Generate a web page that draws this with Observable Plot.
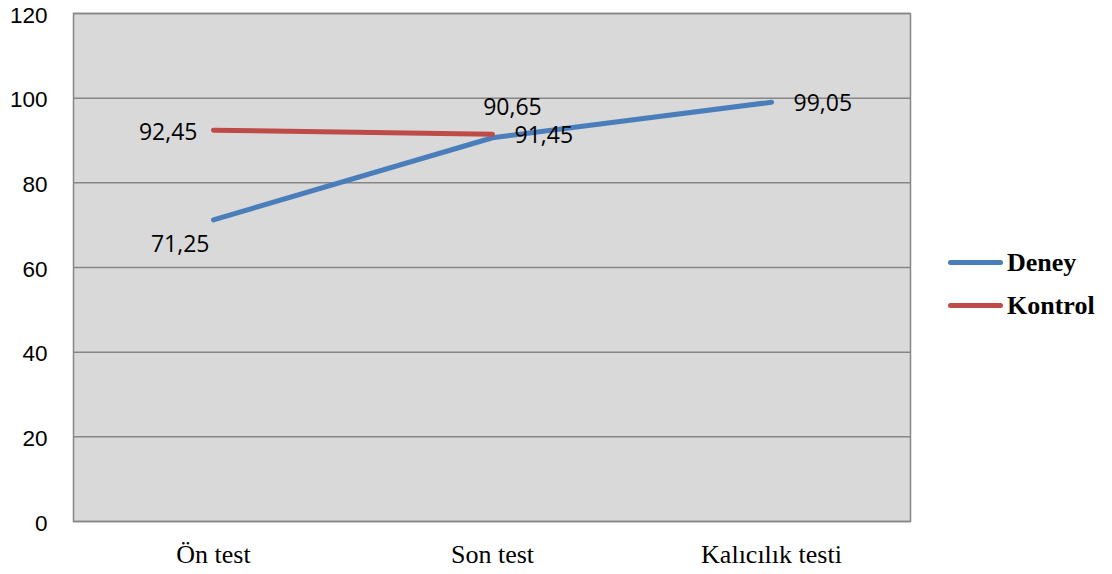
<!DOCTYPE html>
<html><head><meta charset="utf-8">
<script src="https://cdn.jsdelivr.net/npm/d3@7"></script>
<script src="https://cdn.jsdelivr.net/npm/@observablehq/plot@0.6"></script>
<style>
body{margin:0;background:#fff;}
#wrap{position:relative;width:1112px;height:574px;}
#legend{position:absolute;left:948px;top:241px;font-family:"Liberation Serif",serif;font-weight:bold;font-size:26px;color:#000;}
.item{display:flex;align-items:center;height:43px;}
.sw{width:55px;height:5px;border-radius:3px;margin-right:4px;}
svg g[aria-label="y-axis tick label"]{font-family:"Liberation Sans",sans-serif !important;font-size:22.5px !important;}
svg g[aria-label="x-axis tick label"]{font-family:"Liberation Serif",serif !important;font-size:26px !important;}
svg g[aria-label="text"]{font-family:"Open Sans",sans-serif !important;font-size:23px !important;}
</style></head>
<body><div id="wrap"><div id="legend"></div></div>
<script>
const categories = ["Ön test", "Son test", "Kalıcılık testi"];
const deney = [71.25, 90.65, 99.05];
const kontrol = [92.45, 91.45];
const yTicks = [0, 20, 40, 60, 80, 100, 120];
const seriesNames = ["Deney", "Kontrol"];
const colors = ["#4a7ebb", "#be4b48"];

const rows = [
  ...deney.map((v, i) => ({series: "Deney", cat: categories[i], value: v})),
  ...kontrol.map((v, i) => ({series: "Kontrol", cat: categories[i], value: v}))
];
const fmt = v => v.toFixed(2).replace(".", ",");
const labelPos = {
  "Deney|Ön test": {dx: -4, dy: 25, anchor: "end"},
  "Deney|Son test": {dx: 20, dy: -30, anchor: "middle"},
  "Deney|Kalıcılık testi": {dx: 22, dy: 1, anchor: "start"},
  "Kontrol|Ön test": {dx: -16, dy: 2, anchor: "end"},
  "Kontrol|Son test": {dx: 22, dy: 1, anchor: "start"}
};
const labelMarks = rows.map(r => {
  const p = labelPos[r.series + "|" + r.cat];
  return Plot.text([r], {x: "cat", y: "value", text: d => fmt(d.value), dx: p.dx, dy: p.dy, textAnchor: p.anchor,
    fontSize: 23, fontFamily: "'Open Sans', sans-serif", fill: "#000"});
});

const chart = Plot.plot({
  width: 1112, height: 574,
  marginLeft: 73, marginRight: 202, marginTop: 13, marginBottom: 53,
  style: {background: "transparent", overflow: "visible"},
  x: {type: "point", domain: categories, padding: 0.5, label: null},
  y: {domain: [0, 120], ticks: yTicks, label: null},
  color: {domain: seriesNames, range: colors},
  marks: [
    Plot.frame({fill: "#d9d9d9", stroke: "#868686", strokeWidth: 1.5}),
    Plot.ruleY(yTicks, {stroke: "#868686", strokeWidth: 1.5}),
    Plot.axisY({ticks: yTicks, tickSize: 0, tickPadding: 26, dy: 2, fontSize: 22.5, fill: "#000", label: null}),
    Plot.axisX({tickSize: 0, tickPadding: 23, fontSize: 26, fill: "#000", label: null}),
    Plot.line(rows, {x: "cat", y: "value", z: "series", stroke: "series", strokeWidth: 5, strokeLinecap: "round"}),
    ...labelMarks
  ]
});
document.getElementById("wrap").prepend(chart);

const leg = document.getElementById("legend");
seriesNames.forEach((n, i) => {
  const it = document.createElement("div"); it.className = "item";
  const sw = document.createElement("div"); sw.className = "sw"; sw.style.background = colors[i];
  const t = document.createElement("span"); t.textContent = n;
  it.append(sw, t); leg.append(it);
});
</script></body></html>
